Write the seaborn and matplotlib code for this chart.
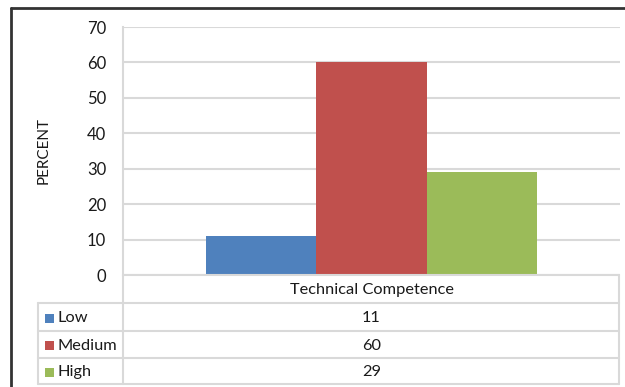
import matplotlib
matplotlib.use("Agg")
import matplotlib.pyplot as plt
from matplotlib.lines import Line2D
from matplotlib.patches import Rectangle
import seaborn as sns
import pandas as pd

# Data
category = "Technical Competence"
levels = ["Low", "Medium", "High"]
percent = [11, 60, 29]
colors = ["#4F81BD", "#C0504D", "#9BBB59"]
yticks = [0, 10, 20, 30, 40, 50, 60, 70]

sns.set_theme(style="white")
plt.rcParams["font.family"] = ["Lato", "DejaVu Sans"]

W, H = 625, 387
fig = plt.figure(figsize=(W / 100, H / 100), dpi=100)
fig.patch.set_facecolor("white")


def fx(x):
    return x / W


def fy(y):
    return 1 - y / H


text_c = "#1a1a1a"

# plot area in pixel bounds
L, R, T, B = 123, 620, 27, 275
ax = fig.add_axes([fx(L), fy(B), fx(R) - fx(L), fy(T) - fy(B)])

df = pd.DataFrame({"cat": [category] * len(levels), "level": levels, "pct": percent})
sns.barplot(data=df, x="cat", y="pct", hue="level", hue_order=levels,
            palette=colors, width=0.665, gap=0, saturation=1,
            edgecolor="none", linewidth=0, ax=ax, legend=False)

ax.set_ylim(0, 70)
ax.set_yticks(yticks)
ax.set_yticklabels([str(t) for t in yticks], fontsize=12, color=text_c)
ax.tick_params(axis="y", length=0, pad=12)
ax.set_xticks([])
ax.set_xlabel("")
ax.set_ylabel("PERCENT", fontsize=11, color=text_c, labelpad=26)
ax.yaxis.grid(True, color="#d9d9d9", linewidth=1.5)
ax.set_axisbelow(True)
for side in ["top", "right", "bottom"]:
    ax.spines[side].set_visible(False)
ax.spines["left"].set_color("#d9d9d9")
ax.spines["left"].set_linewidth(1.5)

# data table below the plot area
grid_c = "#d9d9d9"
lw = 1.5
row_lines = [275, 303, 331, 358, 384]
tab_left, tab_split, tab_right = 38, 123, 619


def hline(y, x0, x1):
    fig.add_artist(Line2D([fx(x0), fx(x1)], [fy(y), fy(y)], color=grid_c, lw=lw))


def vline(x, y0, y1):
    fig.add_artist(Line2D([fx(x), fx(x)], [fy(y0), fy(y1)], color=grid_c, lw=lw))


hline(row_lines[0], tab_split, tab_right)
for y in row_lines[1:]:
    hline(y, tab_left, tab_right)
vline(tab_split, row_lines[0], row_lines[-1])
vline(tab_right, row_lines[0], row_lines[-1])
vline(tab_left, row_lines[1], row_lines[-1])

center_x = (L + R) / 2
fig.text(fx(center_x), fy((row_lines[0] + row_lines[1]) / 2 + 1), category,
         ha="center", va="center", fontsize=11.8, color=text_c)

for i, (lev, val, col) in enumerate(zip(levels, percent, colors)):
    yc = (row_lines[i + 1] + row_lines[i + 2]) / 2 + 1
    fig.add_artist(Rectangle((fx(45), fy(yc + 4.5)), fx(9), 9 / H,
                             transform=fig.transFigure, color=col, lw=0))
    fig.text(fx(58), fy(yc), lev, ha="left", va="center",
             fontsize=11.8, color=text_c)
    fig.text(fx(center_x), fy(yc), str(val), ha="center", va="center",
             fontsize=11.8, color=text_c)

# outer chart frame
frame_c = "#333333"
fig.add_artist(Line2D([fx(11), fx(11)], [fy(8), fy(H + 5)], color=frame_c, lw=2))
fig.add_artist(Line2D([fx(11), fx(W + 5)], [fy(8), fy(8)], color=frame_c, lw=2))

fig.savefig("out.png", dpi=100, facecolor="white")
